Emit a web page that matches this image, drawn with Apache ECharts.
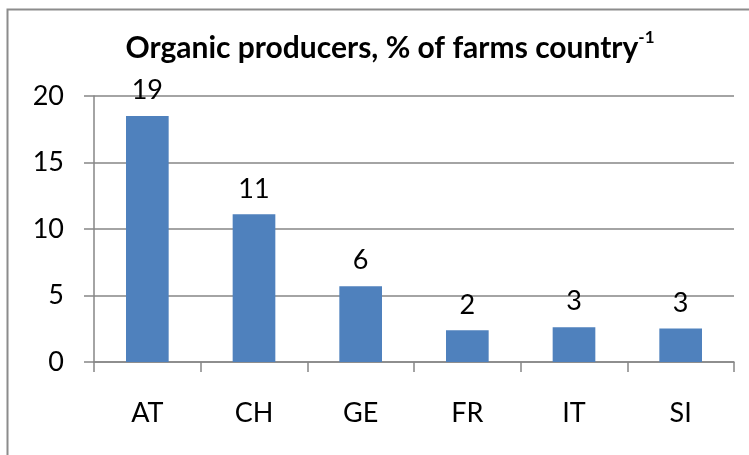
<!DOCTYPE html>
<html>
<head>
<meta charset="utf-8">
<script src="https://cdn.jsdelivr.net/npm/echarts@6/dist/echarts.min.js"></script>
<style>html,body{margin:0;padding:0;background:#fff}#c{width:749px;height:455px}</style>
</head>
<body>
<div id="c"></div>
<script>
const categories = ['AT', 'CH', 'GE', 'FR', 'IT', 'SI'];
const values = [18.5, 11.1, 5.7, 2.38, 2.61, 2.52];
const yTicks = [0, 5, 10, 15, 20];

const chart = echarts.init(document.getElementById('c'), null, {renderer: 'canvas'});
const FONT = 'Lato';
chart.setOption({
  animation: false,
  backgroundColor: '#fff',
  graphic: [{
    type: 'rect', left: 5, top: 7, silent: true,
    shape: {width: 800, height: 500},
    style: {fill: 'none', stroke: '#8c8c8c', lineWidth: 2}
  }],
  title: {
    text: '{a|Organic producers, % of farms country}{s|-1}',
    left: 385, top: 24, textAlign: 'center',
    textStyle: {
      rich: {
        a: {fontFamily: FONT, fontWeight: 'bold', fontSize: 30, color: '#000', verticalAlign: 'bottom', lineHeight: 34},
        s: {fontFamily: FONT, fontWeight: 'bold', fontSize: 17, color: '#000', verticalAlign: 'top', lineHeight: 34, padding: [0,0,14,0]}
      }
    }
  },
  grid: {left: 94, right: 15, top: 96, bottom: 93, containLabel: false},
  xAxis: {
    type: 'category', data: categories,
    axisLine: {lineStyle: {color: '#868686', width: 1.5}},
    axisTick: {show: true, length: 10, lineStyle: {color: '#868686', width: 1.5}},
    axisLabel: {fontFamily: FONT, fontSize: 27, color: '#000', margin: 38}
  },
  yAxis: {
    type: 'value', min: yTicks[0], max: yTicks[yTicks.length - 1], interval: 5,
    axisLine: {show: true, lineStyle: {color: '#868686', width: 1.5}},
    axisTick: {show: true, length: 10, lineStyle: {color: '#868686', width: 1.5}},
    splitLine: {lineStyle: {color: '#868686', width: 1.5}},
    axisLabel: {fontFamily: FONT, fontSize: 27, color: '#000', margin: 30}
  },
  series: [{
    type: 'bar', data: values, barWidth: '40%',
    itemStyle: {color: '#4F81BD'},
    label: {
      show: true, position: 'top', distance: 12,
      fontFamily: FONT, fontSize: 27, color: '#000',
      formatter: p => String(Math.round(p.value))
    }
  }]
});
</script>
</body>
</html>
